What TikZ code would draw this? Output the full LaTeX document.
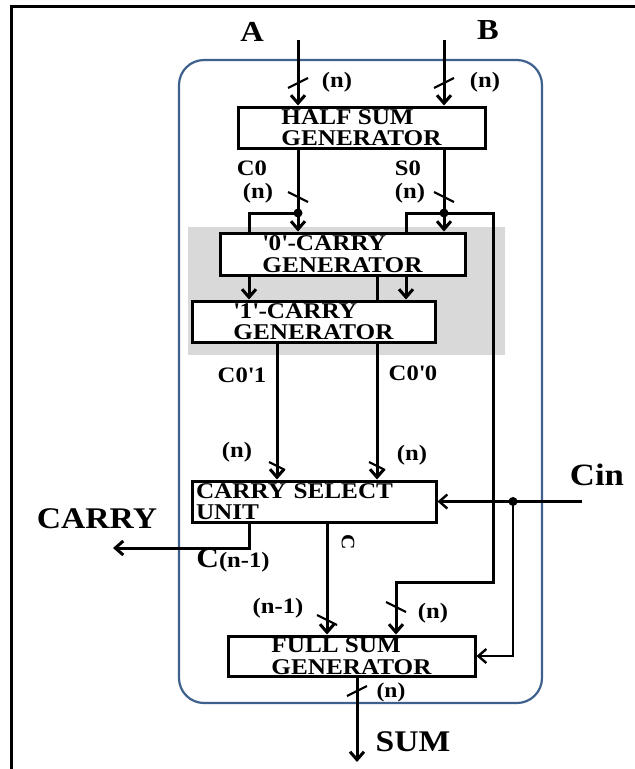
\documentclass[tikz,border=0pt]{standalone}
\usepackage{fontspec}
\setmainfont{Liberation Serif}[FakeStretch=1.12]
\usetikzlibrary{arrows.meta}

\definecolor{frameblue}{RGB}{62,96,140}
\definecolor{panelgrey}{RGB}{217,217,217}

\begin{document}
\begin{tikzpicture}[
    x=1pt, y=-1pt,
    box/.style={
        draw,
        rectangle,
        fill=white,
        line width=3pt,
        minimum height=41pt,
        inner sep=0pt,
        align=left,
        font=\fontsize{22.5}{21.5}\selectfont\bfseries
    },
    lbl/.style={inner sep=0pt, font=\fontsize{22}{22}\selectfont\bfseries},
    biglbl/.style={inner sep=0pt, font=\fontsize{29}{29}\selectfont\bfseries},
    wire/.style={line width=3pt},
    arrow/.style={
        wire,
        -{Straight Barb[length=8pt,width=14pt]}
    },
    junction/.style={circle, fill, inner sep=0pt, minimum size=9pt},
    slashup/.pic={\draw[line width=2.2pt] (-10,5) -- (10,-5);},
    slashdn/.pic={\draw[line width=2.2pt] (-10,-5) -- (10,5);}
]
\useasboundingbox (0,0) rectangle (635,769);

% page edge and unit outline
\draw[line width=3pt] (11,769) -- (11,6) -- (635,6);
\draw[frameblue, line width=2.2pt, rounded corners=25pt] (179,60) rectangle (542,703);
\fill[panelgrey] (188,227) rectangle (505,355);

% columns of the wires
\coordinate (colL) at (249,0);
\coordinate (colS) at (277,0);
\coordinate (colC) at (327,0);
\coordinate (colQ) at (377,0);
\coordinate (colF) at (396,0);
\coordinate (colM) at (406,0);

\coordinate (ina) at (298,40);
\coordinate (inb) at (444,40);
\coordinate (da) at (298,213);
\coordinate (db) at (444,213);
\coordinate (sbend) at (493,582);
\coordinate (cin) at (582,501.5);
\coordinate (dc) at (513,501.5);
\coordinate (carry) at (113,548);
\coordinate (sum) at (357,762);

\node[box, minimum width=247pt] (hs) at (361.5,127.5) {HALF SUM\\GENERATOR};
\node[box, minimum width=245pt, minimum height=42pt] (zcg) at (342.5,254) {\textquotesingle 0\textquotesingle-CARRY\\GENERATOR};
\node[box, minimum width=243pt] (ocg) at (313.5,321.5) {\textquotesingle 1\textquotesingle-CARRY\\GENERATOR};
\node[box, minimum width=244pt, text width=236pt] (csu) at (314,501.5) {CARRY SELECT\\UNIT};
\node[box, minimum width=247pt, minimum height=40pt] (fsg) at (351.5,656) {FULL SUM\\GENERATOR};

% inputs
\draw[arrow] (ina) -- (ina |- hs.north);
\draw[arrow] (inb) -- (inb |- hs.north);
\node[biglbl] (la) at (252,32) {A};
\node[biglbl] (lb) at (488,30) {B};
\pic at (298,83) {slashup};
\pic at (444,83) {slashup};
\node[lbl] (na) at (337,82) {(n)};
\node[lbl] (nb) at (485,82) {(n)};

% half sum outputs
\draw[wire] (da |- hs.south) -- (da);
\draw[arrow] (da) -- (da |- zcg.north);
\draw[wire] (db |- hs.south) -- (db);
\draw[arrow] (db) -- (db |- zcg.north);
\draw[wire] (da) -| (colL |- zcg.north);
\draw[wire] (db) -| (colM |- zcg.north);
\node[junction] (ja) at (da) {};
\node[junction] (jb) at (db) {};
\node[lbl] (lc0) at (252,168) {C0};
\node[lbl] (ls0) at (408,168) {S0};
\node[lbl] (nc0) at (258,193) {(n)};
\node[lbl] (ns0) at (410,193) {(n)};
\pic at (298,197) {slashdn};
\pic at (444,197) {slashdn};

% carry generators
\draw[arrow] (colL |- zcg.south) -- (colL |- ocg.north);
\draw[arrow] (colM |- zcg.south) -- (colM |- ocg.north);
\draw[wire] (colQ |- zcg.south) -- (colQ |- ocg.north);
\draw[arrow] (colS |- ocg.south) -- (colS |- csu.north);
\draw[arrow] (colQ |- ocg.south) -- (colQ |- csu.north);
\node[lbl] (lc01) at (242,375) {C0\textquotesingle 1};
\node[lbl] (lc00) at (413,373) {C0\textquotesingle 0};
\node[lbl] (nc01) at (237,452) {(n)};
\node[lbl] (nc00) at (412,455) {(n)};
\pic[scale=0.8] at (277,466) {slashdn};
\pic[scale=0.8] at (377,466) {slashdn};

% half sum to full sum
\draw[arrow] (db) -| (sbend) -| (colF |- fsg.north);
\pic at (396,607) {slashdn};
\node[lbl] (nfs) at (433,613) {(n)};

% carry select outputs
\draw[arrow] (colL |- csu.south) |- (carry);
\node[biglbl, font=\fontsize{30}{30}\selectfont\bfseries] (lcarry) at (97,519) {CARRY};
\node[lbl] (lcn) at (233,561) {{\fontsize{28}{28}\selectfont C}(n-1)};
\draw[arrow] (colC |- csu.south) -- (colC |- fsg.north);
\node[lbl, rotate=-90, font=\fontsize{19}{19}\selectfont\bfseries] (lc) at (348,542) {C};
\pic at (327,620) {slashdn};
\node[lbl] (nn1) at (278,608) {(n-1)};

% carry in
\draw[arrow, line width=2.4pt] (cin) -- (csu.east);
\draw[arrow, line width=2.4pt] (dc) |- (fsg.east);
\node[junction] (jc) at (dc) {};
\node[biglbl, font=\fontsize{31}{31}\selectfont\bfseries] (lcin) at (597,475) {Cin};

% sum
\draw[arrow] (sum |- fsg.south) -- (sum);
\pic at (357,691) {slashup};
\node[lbl, font=\fontsize{21}{21}\selectfont\bfseries] (nsum) at (391,692) {(n)};
\node[biglbl, font=\fontsize{30}{30}\selectfont\bfseries] (lsum) at (413,742) {SUM};

\end{tikzpicture}
\end{document}
